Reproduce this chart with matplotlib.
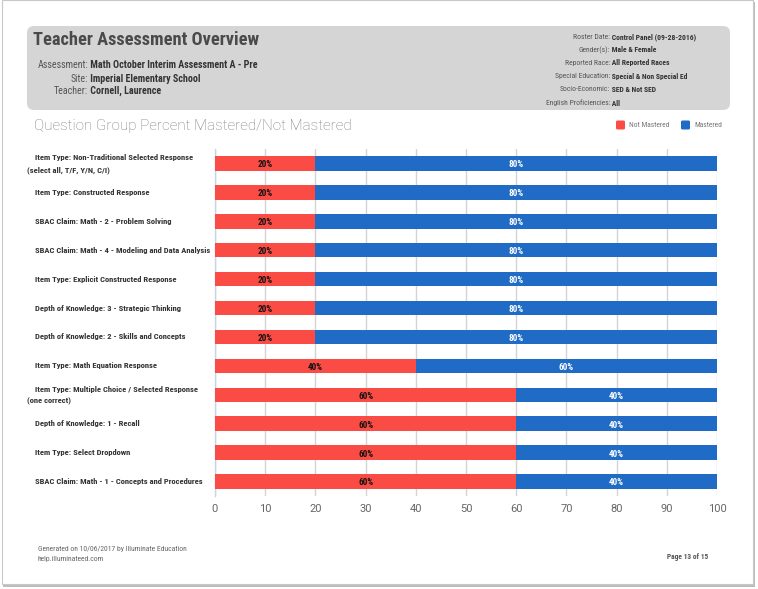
import matplotlib
matplotlib.use("Agg")
import matplotlib.pyplot as plt
from matplotlib import font_manager
from matplotlib.patches import FancyBboxPatch, Rectangle

categories = [
    ["Item Type: Non-Traditional Selected Response", "(select all, T/F, Y/N, C/I)"],
    ["Item Type: Constructed Response"],
    ["SBAC Claim: Math - 2 - Problem Solving"],
    ["SBAC Claim: Math - 4 - Modeling and Data Analysis"],
    ["Item Type: Explicit Constructed Response"],
    ["Depth of Knowledge: 3 - Strategic Thinking"],
    ["Depth of Knowledge: 2 - Skills and Concepts"],
    ["Item Type: Math Equation Response"],
    ["Item Type: Multiple Choice / Selected Response", "(one correct)"],
    ["Depth of Knowledge: 1 - Recall"],
    ["Item Type: Select Dropdown"],
    ["SBAC Claim: Math - 1 - Concepts and Procedures"],
]
not_mastered = [20, 20, 20, 20, 20, 20, 20, 40, 60, 60, 60, 60]
mastered = [80, 80, 80, 80, 80, 80, 80, 60, 40, 40, 40, 40]
series_names = ["Not Mastered", "Mastered"]
x_ticks = [0, 10, 20, 30, 40, 50, 60, 70, 80, 90, 100]

header_left = [("Assessment:", "Math October Interim Assessment A - Pre"),
               ("Site:", "Imperial Elementary School"),
               ("Teacher:", "Cornell, Laurence")]
header_right = [("Roster Date:", "Control Panel (09-28-2016)"),
                ("Gender(s):", "Male & Female"),
                ("Reported Race:", "All Reported Races"),
                ("Special Education:", "Special & Non Special Ed"),
                ("Socio-Economic:", "SED & Not SED"),
                ("English Proficiencies:", "All")]

RED = "#fa4b44"
BLUE = "#1f6bc5"

names = {f.name for f in font_manager.fontManager.ttflist}
stretches = {(f.name, f.stretch) for f in font_manager.fontManager.ttflist}
COND = None
for cand in ["Roboto Condensed", "Liberation Sans Narrow", "Open Sans Condensed"]:
    if cand in names:
        COND = dict(family=[cand, "DejaVu Sans"])
        break
if COND is None:
    if any(n == "DejaVu Sans" and s == "condensed" for n, s in stretches):
        COND = dict(family=["DejaVu Sans"], fontstretch="condensed")
    else:
        COND = dict(family=["Roboto", "DejaVu Sans"])
REG = dict(family=["Roboto", "DejaVu Sans"])

W, H = 758, 589
fig = plt.figure(figsize=(W / 100, H / 100), dpi=100)
fig.patch.set_facecolor("white")

# overlay axes in pixel coordinates
bg = fig.add_axes([0, 0, 1, 1])
bg.set_xlim(0, W)
bg.set_ylim(H, 0)
bg.axis("off")

# page shadow and border
bg.add_patch(Rectangle((3, 2), 752, 585, facecolor="#bdbdbd", edgecolor="none", zorder=0))
bg.add_patch(Rectangle((2, 0), 751, 584, facecolor="white", edgecolor="#c8c8c8", lw=0.8, zorder=1))

# header box
bg.add_patch(FancyBboxPatch((27, 26), 703, 84, boxstyle="round,pad=0,rounding_size=7",
                            facecolor="#d5d5d6", edgecolor="none", zorder=2))
bg.text(33, 40, "Teacher Assessment Overview", fontsize=13.2, fontweight="bold",
        color="#4a4a4a", va="center", ha="left", zorder=3, **COND)
for (lab, val), y in zip(header_left, [65, 79, 91]):
    bg.text(88, y, lab, fontsize=7.2, color="#555555", ha="right", va="center", zorder=3, **COND)
    bg.text(88, y, " " + val, fontsize=7.2, color="#333333", fontweight="bold",
            ha="left", va="center", zorder=3, **COND)
for (lab, val), y in zip(header_right, [37, 50, 63, 76, 89, 103]):
    bg.text(610, y, lab, fontsize=5.5, color="#555555", ha="right", va="center", zorder=3, **COND)
    bg.text(610, y, " " + val, fontsize=5.5, color="#333333", fontweight="bold",
            ha="left", va="center", zorder=3, **COND)

# chart subtitle
bg.text(34, 126, "Question Group Percent Mastered/Not Mastered", fontsize=11,
        color="#7e7e7e", ha="left", va="center", zorder=3, fontweight="light", **REG)

# legend
bg.add_patch(FancyBboxPatch((616, 120.5), 9, 9, boxstyle="round,pad=0,rounding_size=1.5",
                            facecolor=RED, edgecolor="none", zorder=3))
bg.text(629, 125.5, series_names[0], fontsize=5.4, color="#777777", va="center", ha="left", zorder=3, **COND)
bg.add_patch(FancyBboxPatch((681, 120.5), 9, 9, boxstyle="round,pad=0,rounding_size=1.5",
                            facecolor=BLUE, edgecolor="none", zorder=3))
bg.text(694, 125.5, series_names[1], fontsize=5.4, color="#777777", va="center", ha="left", zorder=3, **COND)

# footer
bg.text(38, 549, "Generated on 10/06/2017 by Illuminate Education", fontsize=5.5,
        color="#666666", ha="left", va="center", zorder=3, **COND)
bg.text(38, 559, "help.illuminateed.com", fontsize=5.5, color="#666666",
        ha="left", va="center", zorder=3, **COND)
bg.text(708, 557, "Page 13 of 15", fontsize=5.3, color="#555555", fontweight="bold",
        ha="right", va="center", zorder=3, **COND)

# chart
top_px, bot_px, left_px, right_px = 149, 496, 215, 717
ax = fig.add_axes([left_px / W, 1 - bot_px / H, (right_px - left_px) / W, (bot_px - top_px) / H])
ax.set_zorder(4)
ax.patch.set_alpha(0)
n = len(categories)
ys = list(range(n))
ax.barh(ys, not_mastered, height=0.5, color=RED, zorder=3)
ax.barh(ys, mastered, left=not_mastered, height=0.5, color=BLUE, zorder=3)
for y, a, b in zip(ys, not_mastered, mastered):
    ax.text(a / 2, y + 0.05, f"{a}%", ha="center", va="center", fontsize=6.6,
            fontweight="bold", color="#111111", zorder=4, **COND)
    ax.text(a + b / 2, y + 0.05, f"{b}%", ha="center", va="center", fontsize=6.6,
            fontweight="bold", color="white", zorder=4, **COND)
ax.set_xlim(0, 100)
ax.set_ylim(n - 0.5, -0.5)
ax.set_xticks(x_ticks)
ax.set_xticklabels([str(t) for t in x_ticks], fontsize=8, color="#666666", **REG)
ax.tick_params(axis="x", length=0, pad=6)
ax.set_yticks([])
ax.grid(axis="x", color="#d4d4d4", lw=1.0, zorder=0)
for s in ["top", "right", "bottom"]:
    ax.spines[s].set_visible(False)
ax.spines["left"].set_color("#c6d4e6")
ax.spines["left"].set_linewidth(1.0)

# category labels
row_h = (bot_px - top_px) / n
for i, lines in enumerate(categories):
    yc = top_px + row_h * (i + 0.5)
    if len(lines) == 1:
        bg.text(35, yc, lines[0], fontsize=6.1, fontweight="bold", color="#333333",
                ha="left", va="center", zorder=3, **COND)
    else:
        bg.text(35, yc - 5.5, lines[0], fontsize=6.1, fontweight="bold", color="#333333",
                ha="left", va="center", zorder=3, **COND)
        bg.text(27, yc + 6.5, lines[1], fontsize=6.1, fontweight="bold", color="#333333",
                ha="left", va="center", zorder=3, **COND)

fig.savefig("out.png", dpi=100, facecolor="white")
